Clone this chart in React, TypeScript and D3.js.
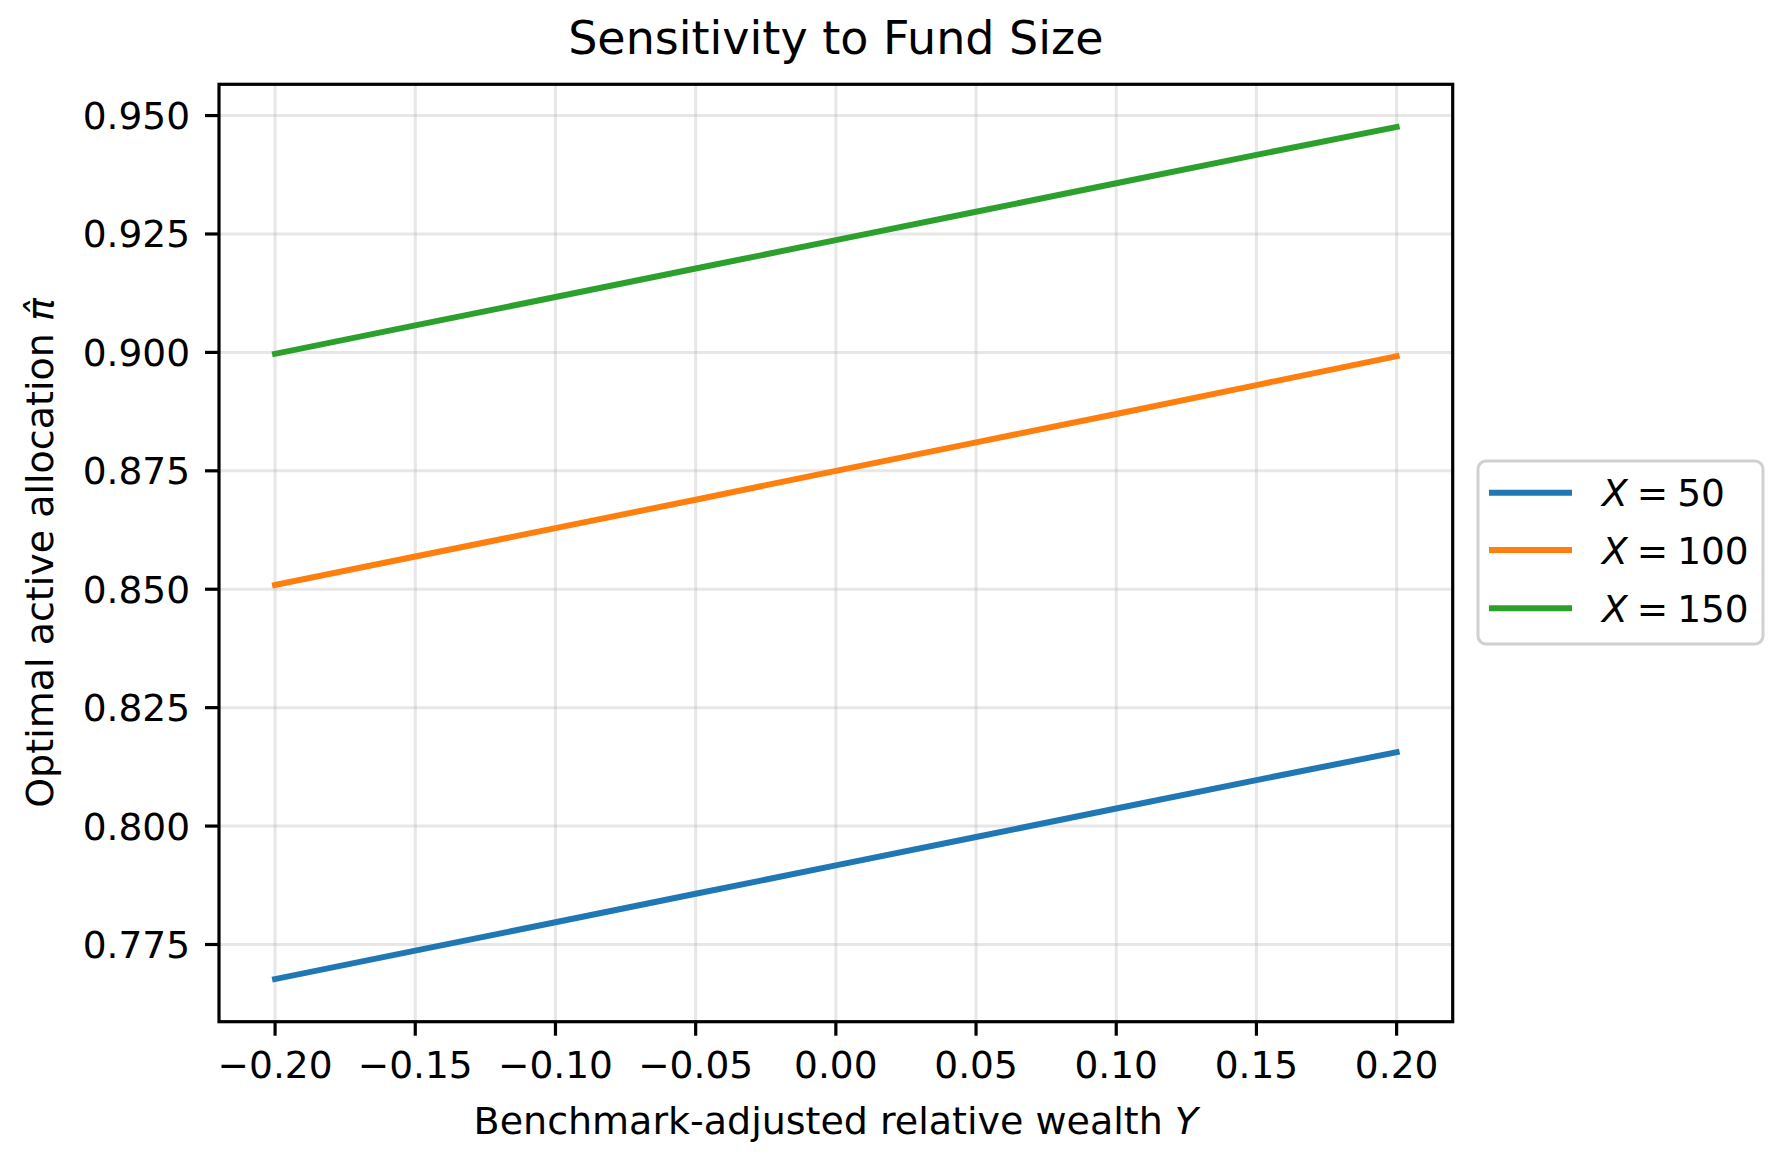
import React from 'react';
import * as d3 from 'd3';

// values
const yValues = [-0.2, -0.15, -0.1, -0.05, 0.0, 0.05, 0.1, 0.15, 0.2];
const seriesNames = ['50', '100', '150'];
const seriesColors = ['#1f77b4', '#ff7f0e', '#2ca02c'];
const piX50 = [0.7677, 0.7737, 0.7797, 0.7857, 0.7917, 0.7977, 0.8037, 0.8097, 0.8156];
const piX100 = [0.8509, 0.8569, 0.8629, 0.8689, 0.8750, 0.8810, 0.8870, 0.8931, 0.8992];
const piX150 = [0.8997, 0.9057, 0.9117, 0.9177, 0.9237, 0.9297, 0.9357, 0.9417, 0.9476];
const xTicks = [-0.2, -0.15, -0.1, -0.05, 0, 0.05, 0.1, 0.15, 0.2];
const yTicks = [0.775, 0.8, 0.825, 0.85, 0.875, 0.9, 0.925, 0.95];

const W = 1788;
const H = 1163;
const FONT = '"DejaVu Sans", sans-serif';

const App: React.FC = () => {
    const margin = { left: 219, right: 1452.7, top: 84.3, bottom: 1021.7 };

    const xScale = d3.scaleLinear().domain([-0.22, 0.22]).range([margin.left, margin.right]);
    const yScale = d3.scaleLinear().domain([0.7587, 0.9566]).range([margin.bottom, margin.top]);

    const series = [piX50, piX100, piX150];
    const line = d3.line<number>()
        .x((_, i) => xScale(yValues[i]))
        .y(d => yScale(d));

    const fmtX = (v: number) => d3.format('.2f')(v).replace('-', '\u2212');
    const fmtY = d3.format('.3f');

    const legendX = 1478;
    const legendY = 461;
    const rowY = [492.7, 550, 608.3];

    return (
        <svg width={W} height={H} style={{ position: 'absolute', left: 0, top: 0, background: '#fff' }}
            fontFamily={FONT}>
            <rect x={0} y={0} width={W} height={H} fill="#fff" />

            {/* grid */}
            <g stroke="#b0b0b0" strokeOpacity={0.3} strokeWidth={3}>
                {xTicks.map(t => (
                    <line key={'gx' + t} x1={xScale(t)} x2={xScale(t)} y1={margin.top} y2={margin.bottom} />
                ))}
                {yTicks.map(t => (
                    <line key={'gy' + t} x1={margin.left} x2={margin.right} y1={yScale(t)} y2={yScale(t)} />
                ))}
            </g>

            {/* series */}
            {series.map((s, i) => (
                <path key={seriesNames[i]} d={line(s) || ''} fill="none" stroke={seriesColors[i]}
                    strokeWidth={6} strokeLinecap="square" />
            ))}

            {/* frame */}
            <rect x={margin.left} y={margin.top} width={margin.right - margin.left}
                height={margin.bottom - margin.top} fill="none" stroke="#000" strokeWidth={3.2} />

            {/* x ticks */}
            {xTicks.map(t => (
                <g key={'xt' + t}>
                    <line x1={xScale(t)} x2={xScale(t)} y1={margin.bottom} y2={margin.bottom + 14}
                        stroke="#000" strokeWidth={3.2} />
                    <text x={xScale(t)} y={1078} textAnchor="middle" fontSize={37.5} fill="#000">{fmtX(t)}</text>
                </g>
            ))}

            {/* y ticks */}
            {yTicks.map(t => (
                <g key={'yt' + t}>
                    <line x1={margin.left - 14} x2={margin.left} y1={yScale(t)} y2={yScale(t)}
                        stroke="#000" strokeWidth={3.2} />
                    <text x={190} y={yScale(t) + 13.5} textAnchor="end" fontSize={37.5} fill="#000">{fmtY(t)}</text>
                </g>
            ))}

            {/* labels */}
            <text x={(margin.left + margin.right) / 2} y={54} textAnchor="middle" fontSize={46} fill="#000">
                Sensitivity to Fund Size
            </text>
            <text x={(margin.left + margin.right) / 2} y={1134} textAnchor="middle" fontSize={38} fill="#000">
                Benchmark-adjusted relative wealth <tspan fontStyle="italic">Y</tspan>
            </text>
            <text transform={`translate(53, ${(margin.top + margin.bottom) / 2}) rotate(-90)`}
                textAnchor="middle" fontSize={38} fill="#000">
                Optimal active allocation <tspan fontStyle="italic">{'\u03c0\u0302'}</tspan>
            </text>

            {/* legend */}
            <rect x={legendX} y={legendY} width={285} height={183} rx={8} ry={8}
                fill="#fff" fillOpacity={0.8} stroke="#d0d0d0" strokeWidth={3} />
            {seriesNames.map((n, i) => (
                <g key={'lg' + n}>
                    <line x1={1489} x2={1572} y1={rowY[i]} y2={rowY[i]} stroke={seriesColors[i]} strokeWidth={6} />
                    <text x={1602} y={rowY[i] + 13.5} fontSize={37.5} fill="#000">
                        <tspan fontStyle="italic">X</tspan>
                        <tspan dx={9}>=</tspan>
                        <tspan dx={9}>{n}</tspan>
                    </text>
                </g>
            ))}
        </svg>
    );
};

export default App;
